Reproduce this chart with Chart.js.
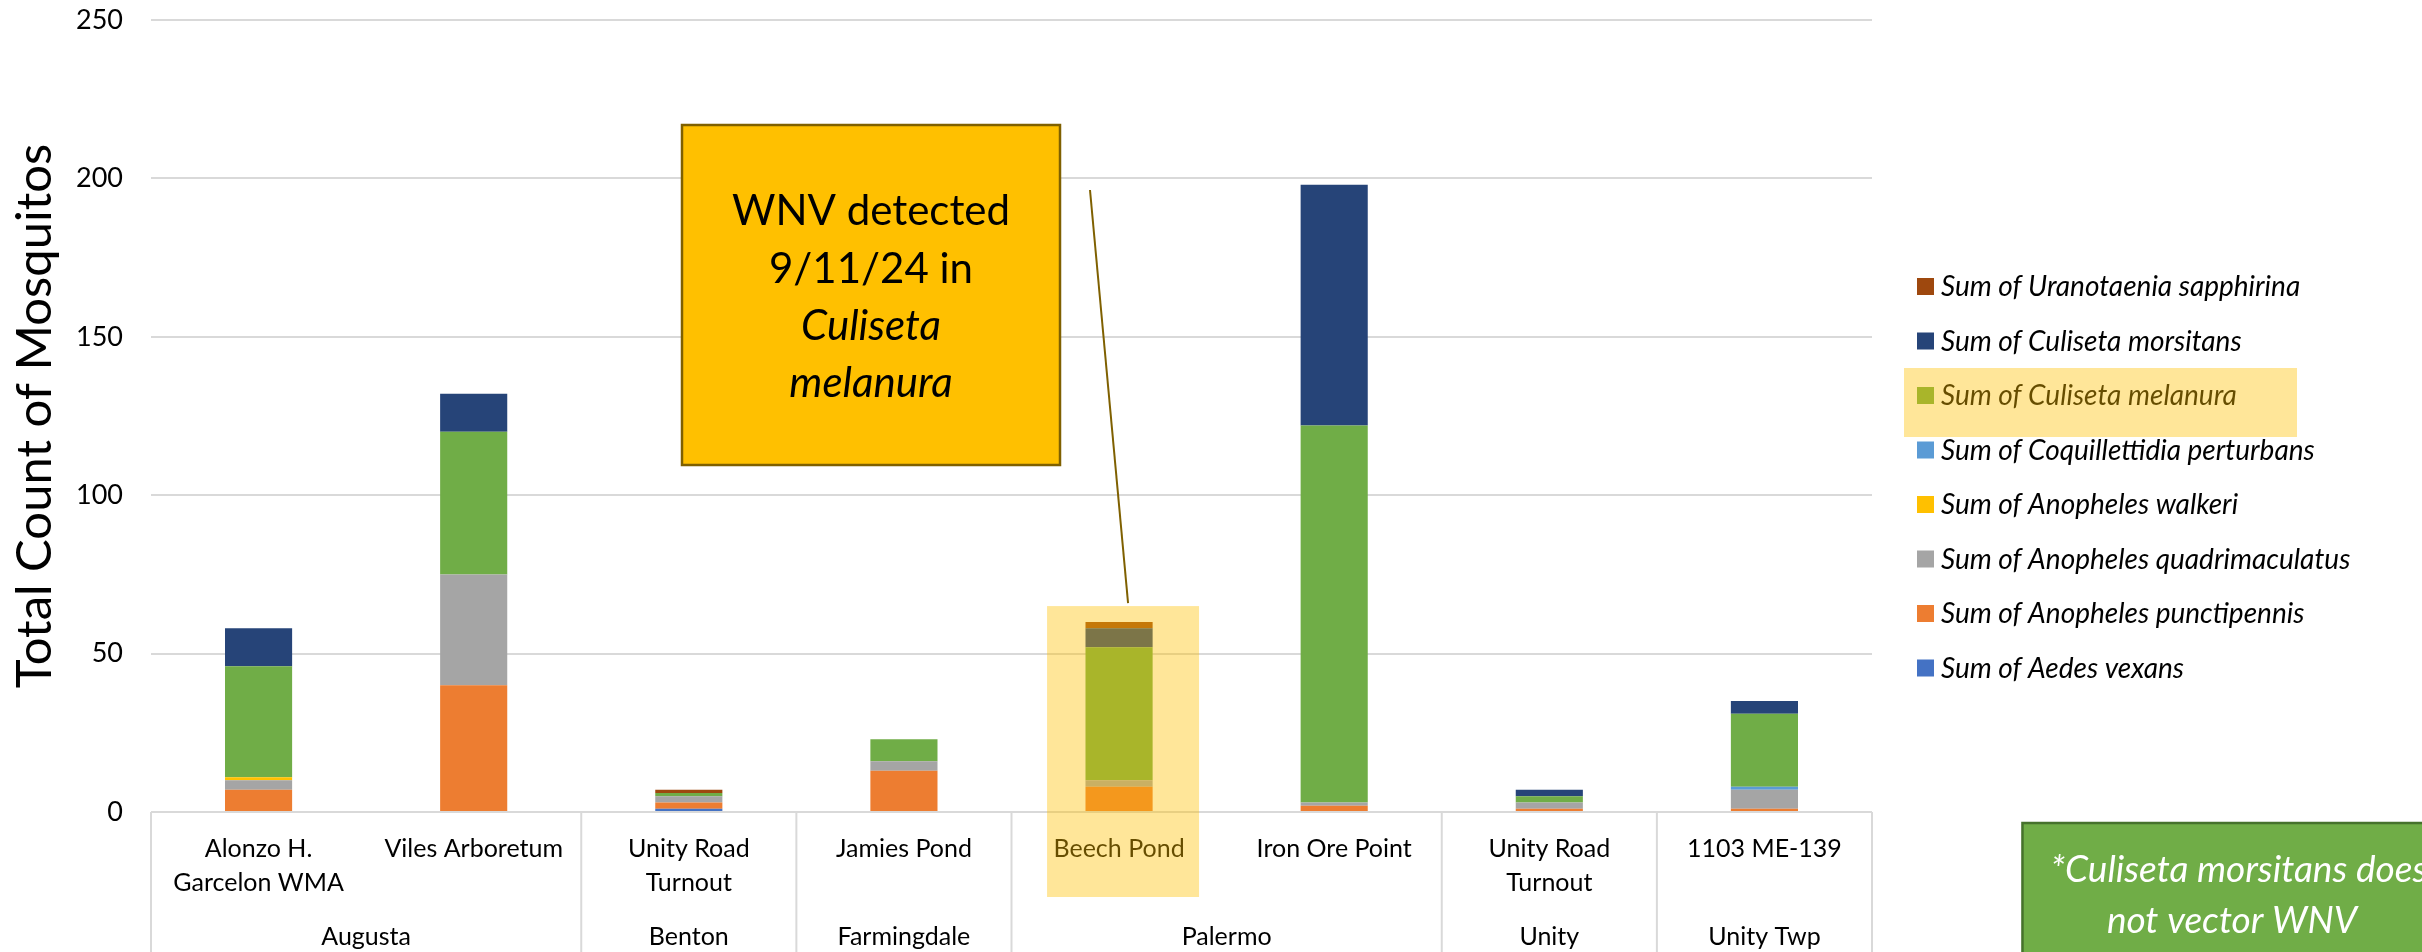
<!DOCTYPE html>
<html lang="en">
<head>
    <meta charset="UTF-8">
    <title>Mosquito Counts by Site</title>
    <script src="https://cdn.jsdelivr.net/npm/chart.js"></script>
    <style>
        body { margin: 0; background: #ffffff; }
        #wrap { width: 2422px; height: 952px; }
    </style>
</head>
<body>
    <div id="wrap"><canvas id="mosqChart" width="2422" height="952"></canvas></div>
    <script>
        // sites (first label level) and towns (second level)
        const sites = [
            ['Alonzo H.', 'Garcelon WMA'],
            'Viles Arboretum',
            ['Unity Road', 'Turnout'],
            'Jamies Pond',
            'Beech Pond',
            'Iron Ore Point',
            ['Unity Road', 'Turnout'],
            '1103 ME-139'
        ];
        const towns = ['Augusta', 'Benton', 'Farmingdale', 'Palermo', 'Unity', 'Unity Twp'];
        const townSiteCount = [2, 1, 1, 2, 1, 1];

        // counts per species, bottom of stack first
        const aedesVexans     = [0, 0, 1, 0, 0, 0, 0, 0];
        const anophPunct      = [7, 40, 2, 13, 8, 2, 1, 1];
        const anophQuadri     = [3, 35, 2, 3, 2, 1, 2, 6];
        const anophWalkeri    = [1, 0, 0, 0, 0, 0, 0, 0];
        const coqPerturbans   = [0, 0, 0, 0, 0, 0, 0, 1];
        const culMelanura     = [35, 45, 1, 7, 42, 119, 2, 23];
        const culMorsitans    = [12, 12, 0, 0, 6, 76, 2, 4];
        const uranoSapphirina = [0, 0, 1, 0, 2, 0, 0, 0];

        const yTicks = [0, 50, 100, 150, 200, 250];

        const highlightSite = 4;      // Beech Pond
        const highlightSeries = 'Sum of Culiseta melanura';

        const FONT = 'Lato';

        const datasets = [
            { label: 'Sum of Aedes vexans', data: aedesVexans, backgroundColor: '#4472C4' },
            { label: 'Sum of Anopheles punctipennis', data: anophPunct, backgroundColor: '#ED7D31' },
            { label: 'Sum of Anopheles quadrimaculatus', data: anophQuadri, backgroundColor: '#A5A5A5' },
            { label: 'Sum of Anopheles walkeri', data: anophWalkeri, backgroundColor: '#FFC000' },
            { label: 'Sum of Coquillettidia perturbans', data: coqPerturbans, backgroundColor: '#5B9BD5' },
            { label: 'Sum of Culiseta melanura', data: culMelanura, backgroundColor: '#70AD47' },
            { label: 'Sum of Culiseta morsitans', data: culMorsitans, backgroundColor: '#264478' },
            { label: 'Sum of Uranotaenia sapphirina', data: uranoSapphirina, backgroundColor: '#9E480E' }
        ];

        // town labels, separators, legend, highlights and text boxes
        const extras = {
            id: 'extras',
            afterDraw(chart) {
                const ctx = chart.ctx;
                const xs = chart.scales.x;
                const ys = chart.scales.y;
                const area = chart.chartArea;
                const base = ys.getPixelForValue(0);
                ctx.save();

                // town separators and town names
                ctx.strokeStyle = '#D9D9D9';
                ctx.lineWidth = 2;
                ctx.font = '25px ' + FONT;
                ctx.fillStyle = '#000';
                ctx.textAlign = 'center';
                ctx.textBaseline = 'alphabetic';
                let idx = 0;
                const half = (xs.getPixelForValue(1) - xs.getPixelForValue(0)) / 2;
                const edges = [area.left];
                towns.forEach((t, i) => {
                    const first = xs.getPixelForValue(idx) - half;
                    const last = xs.getPixelForValue(idx + townSiteCount[i] - 1) + half;
                    edges.push(last);
                    ctx.fillText(t, (first + last) / 2, 945);
                    idx += townSiteCount[i];
                });
                edges.forEach(x => {
                    ctx.beginPath();
                    ctx.moveTo(x, base);
                    ctx.lineTo(x, chart.height);
                    ctx.stroke();
                });

                // legend (reverse stack order, like Excel)
                ctx.textAlign = 'left';
                ctx.textBaseline = 'middle';
                ctx.font = 'italic 28px ' + FONT;
                let legendHi = null;
                chart.data.datasets.slice().reverse().forEach((ds, i) => {
                    const y = 287 + i * 54.5;
                    ctx.fillStyle = ds.backgroundColor;
                    ctx.fillRect(1917, y - 9, 17, 17);
                    ctx.fillStyle = '#000';
                    ctx.fillText(ds.label, 1941, y);
                    if (ds.label === highlightSeries) legendHi = y;
                });

                // yellow highlight over Beech Pond and the legend entry
                ctx.fillStyle = 'rgba(255, 192, 0, 0.4)';
                const bx = xs.getPixelForValue(highlightSite);
                const hiTop = ys.getPixelForValue(65);
                ctx.fillRect(bx - 72, hiTop, 152, 897 - hiTop);
                if (legendHi !== null) ctx.fillRect(1904, legendHi - 28, 393, 69);

                // leader line
                ctx.strokeStyle = '#7F6000';
                ctx.lineWidth = 2;
                ctx.beginPath();
                ctx.moveTo(1090, 190);
                ctx.lineTo(bx + 9, hiTop - 3);
                ctx.stroke();

                // WNV callout
                ctx.fillStyle = '#FFC000';
                ctx.fillRect(682, 125, 378, 340);
                ctx.lineWidth = 2.5;
                ctx.strokeRect(682, 125, 378, 340);
                ctx.fillStyle = '#000';
                ctx.textAlign = 'center';
                ctx.textBaseline = 'alphabetic';
                ctx.font = '42px ' + FONT;
                ctx.fillText('WNV detected', 871, 225);
                ctx.fillText('9/11/24 in', 871, 283);
                ctx.font = 'italic 42px ' + FONT;
                ctx.fillText('Culiseta', 871, 340);
                ctx.fillText('melanura', 871, 397);

                // green note, cut off by the right edge
                ctx.font = 'italic 37px ' + FONT;
                const lead = ctx.measureText('*Culiseta ').width;
                const line1X = 2197 - lead;
                const boxX = line1X - 28;
                ctx.fillStyle = '#70AD47';
                ctx.fillRect(boxX, 823, 2500 - boxX, 160);
                ctx.strokeStyle = '#46722C';
                ctx.lineWidth = 2.5;
                ctx.strokeRect(boxX, 823, 2500 - boxX, 160);
                ctx.fillStyle = '#ffffff';
                ctx.textAlign = 'left';
                ctx.fillText('*Culiseta morsitans does', line1X, 882);
                ctx.textAlign = 'right';
                ctx.fillText('not vector WNV', 2357, 933);

                ctx.restore();
            }
        };

        new Chart(document.getElementById('mosqChart'), {
            type: 'bar',
            data: { labels: sites, datasets: datasets },
            options: {
                responsive: false,
                animation: false,
                devicePixelRatio: 1,
                layout: { padding: { top: 20, right: 550, left: 0, bottom: 0 } },
                datasets: { bar: { barPercentage: 1, categoryPercentage: 0.312, borderWidth: 0 } },
                plugins: { legend: { display: false }, tooltip: { enabled: false } },
                scales: {
                    x: {
                        stacked: true,
                        grid: { display: false, drawTicks: false },
                        border: { display: false },
                        ticks: {
                            autoSkip: false, maxRotation: 0, padding: 20, color: '#000',
                            font: { family: FONT, size: 25, lineHeight: 1.36 }
                        },
                        afterFit(scale) { scale.height = 140; }
                    },
                    y: {
                        stacked: true,
                        min: 0, max: 250,
                        afterBuildTicks(scale) { scale.ticks = yTicks.map(v => ({ value: v })); },
                        // tick marks are invisible, they only push the labels left
                        grid: { color: '#D9D9D9', lineWidth: 2, drawTicks: true, tickLength: 28, tickColor: 'rgba(0,0,0,0)' },
                        border: { display: false },
                        ticks: { padding: 0, color: '#000', font: { family: FONT, size: 27 } },
                        title: {
                            display: true, text: 'Total Count of Mosquitos', color: '#000',
                            font: { family: FONT, size: 49 }, padding: { top: 6, bottom: 0 }
                        },
                        afterFit(scale) { scale.width = 151; }
                    }
                }
            },
            plugins: [extras]
        });
    </script>
</body>
</html>
